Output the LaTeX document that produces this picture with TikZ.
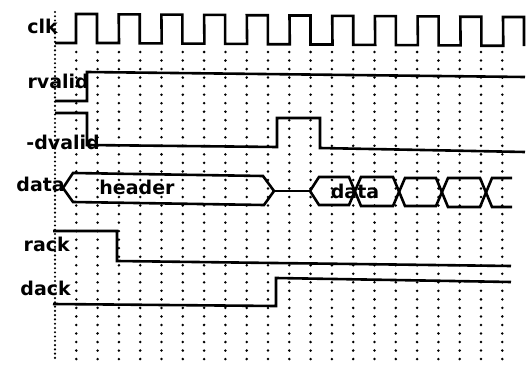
\documentclass[tikz,border=0pt]{standalone}
\usepackage{fontspec}
\setmainfont{DejaVu Sans}
\begin{document}
\begin{tikzpicture}[x=1pt,y=-1pt,
  sig/.style={line width=2.6pt, line join=miter},
  lab/.style={font=\bfseries\fontsize{19}{19}\selectfont, anchor=east, inner sep=0pt},
  buslab/.style={font=\bfseries\fontsize{19}{19}\selectfont, inner sep=0pt},
  griddot/.style={fill=black}]
\fill[white] (0,0) rectangle (528,367);
\useasboundingbox (0,0) rectangle (528,367);
% dotted grid
\foreach \k in {1,...,21}{
  \foreach \j in {0,...,36}{
    \fill[griddot] ({55+21.3*\k},{52+8.53*\j}) circle (1.4);
  }
}
\foreach \j in {0,...,81}{
  \fill[griddot] (55,{12+4.27*\j}) circle (1.2);
}
% labels
\node[lab] (lclk) at (58,26) {clk};
\node[lab] (lrvalid) at (89,81) {rvalid};
\node[lab] (ldvalid) at (100,142) {-dvalid};
\node[lab] (ldata) at (65,184) {data};
\node[lab] (lrack) at (70,244) {rack};
\node[lab] (ldack) at (71,288) {dack};
% clock
\draw[sig] (55,43) -- (76,43)
  \foreach \i in {0,...,9}{
    -- ({76+42.7*\i},{14+0.3*\i}) -- ({97+42.7*\i},{14+0.3*\i})
    -- ({97+42.7*\i},{43+0.3*\i}) -- ({119+42.7*\i},{43+0.3*\i})
  }
  -- (503,17) -- (524,17) -- (524,46);
% rvalid
\draw[sig] (55,101) -- (87,101) -- (87,72) -- (525,77);
% -dvalid
\draw[sig] (55,113) -- (87,113) -- (87,145) -- (277,147) -- (277,118)
  -- (320,118) -- (320,148) -- (525,152);
% data bus
\draw[sig] (63,188) -- (73,173) -- (263,176) -- (274,191) -- (264,205) -- (73,202) -- cycle;
\draw[sig] (274,191) -- (310,191);
\draw[sig] (310,191) -- (319,177) -- (349,177) -- (361,206) -- (393,206) -- (405,178)
  -- (436,178) -- (448,207) -- (480,207) -- (492,178) -- (512,178);
\draw[sig] (310,191) -- (319,205) -- (349,205) -- (361,177) -- (393,177) -- (405,206)
  -- (436,206) -- (448,178) -- (480,178) -- (492,207) -- (512,207);
\node[buslab] (theader) at (137,187) {header};
\node[buslab] (tdata) at (355,191) {data};
% rack
\draw[sig] (53,231) -- (117,231) -- (117,261) -- (511,266);
% dack
\draw[sig] (53,304) -- (276,306) -- (276,278) -- (511,282);
\end{tikzpicture}
\end{document}
